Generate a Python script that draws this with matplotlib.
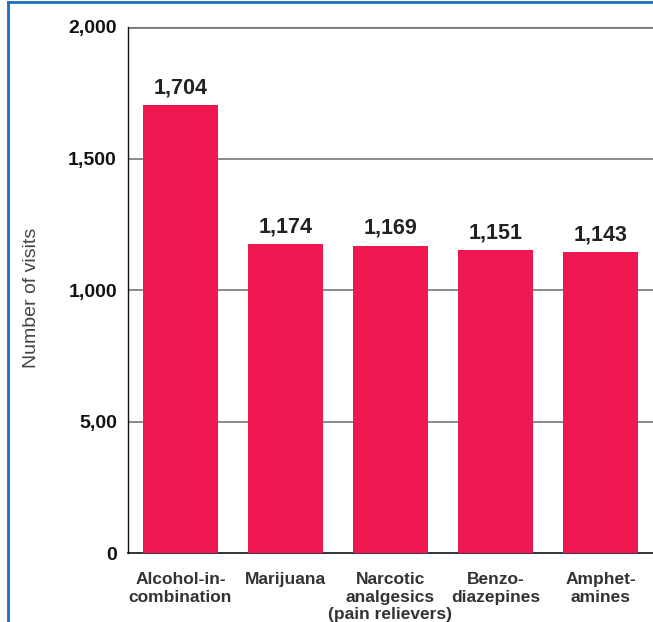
import matplotlib
matplotlib.use("Agg")
import matplotlib.pyplot as plt
from matplotlib.lines import Line2D

# Data
categories = ["Alcohol-in-\ncombination", "Marijuana", "Narcotic\nanalgesics\n(pain relievers)",
              "Benzo-\ndiazepines", "Amphet-\namines"]
visits = [1704, 1174, 1169, 1151, 1143]
value_labels = ["1,704", "1,174", "1,169", "1,151", "1,143"]
y_ticks = [0, 500, 1000, 1500, 2000]
y_tick_labels = ["0", "5,00", "1,000", "1,500", "2,000"]

plt.rcParams['font.family'] = ['Liberation Sans', 'DejaVu Sans']

fig = plt.figure(figsize=(6.53, 6.22), dpi=100)
ax = fig.add_axes([128 / 653, 1 - 553 / 622, 525 / 653, (553 - 27) / 622])

bar_color = "#ee1750"
x = range(len(categories))
ax.bar(x, visits, width=0.72, color=bar_color, zorder=3)

for xi, v, lab in zip(x, visits, value_labels):
    ax.text(xi, v + 25, lab, ha="center", va="bottom", fontsize=15.5,
            fontweight="bold", color="#222222")

ax.set_xlim(-0.5, 4.5)
ax.set_ylim(0, 2000)
ax.set_yticks(y_ticks)
ax.set_yticklabels(y_tick_labels, fontsize=14, fontweight="bold", color="#111111")
ax.set_xticks(list(x))
ax.set_xticklabels(categories, fontsize=12.5, fontweight="bold", color="#333333",
                   linespacing=1.18)
ax.tick_params(axis="both", length=0)
ax.tick_params(axis="y", pad=8)
ax.tick_params(axis="x", pad=14)

for t in y_ticks[1:]:
    ax.axhline(t, color="#777777", linewidth=1.2 if t < 2000 else 2, zorder=1)

for side in ["top", "right"]:
    ax.spines[side].set_visible(False)
ax.spines["left"].set_color("#111111")
ax.spines["left"].set_linewidth(1.0)
ax.spines["bottom"].set_color("#111111")
ax.spines["bottom"].set_linewidth(1.2)

fig.text(32 / 653, 1 - 298 / 622, "Number of visits", rotation=90, ha="center",
         va="center", fontsize=14, color="#444444")

# blue frame on left and top
blue = "#1a6fc0"
fig.add_artist(Line2D([8 / 653, 8 / 653], [0, 1 - 2 / 622], color=blue, linewidth=2,
                      transform=fig.transFigure))
fig.add_artist(Line2D([8 / 653, 1], [1 - 2 / 622, 1 - 2 / 622], color=blue, linewidth=2,
                      transform=fig.transFigure))

fig.savefig("out.png", dpi=100)
